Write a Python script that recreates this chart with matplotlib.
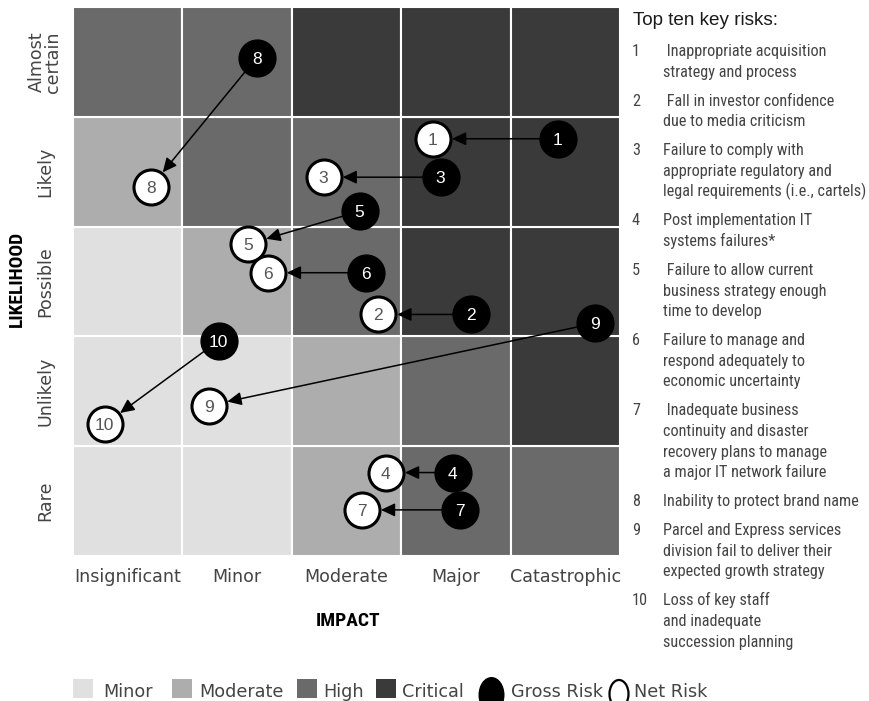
import matplotlib
matplotlib.use('Agg')
import matplotlib.pyplot as plt
from matplotlib.patches import Rectangle, Ellipse
from matplotlib import font_manager

impact_labels = ['Insignificant', 'Minor', 'Moderate', 'Major', 'Catastrophic']
likelihood_labels = ['Rare', 'Unlikely', 'Possible', 'Likely', 'Almost\ncertain']

level_names = ['Minor', 'Moderate', 'High', 'Critical']
level_colors = ['#e0e0e0', '#adadad', '#6a6a6a', '#3a3a3a']

# rows go from Rare (bottom) up to Almost certain, columns follow impact_labels
risk_levels = [
    [0, 0, 1, 2, 2],
    [0, 0, 1, 2, 3],
    [0, 1, 2, 3, 3],
    [1, 2, 2, 3, 3],
    [2, 2, 3, 3, 3],
]

risk_ids = [1, 2, 3, 4, 5, 6, 7, 8, 9, 10]
gross_impact = [4.43, 3.64, 3.36, 3.47, 2.62, 2.68, 3.54, 1.68, 4.77, 1.33]
gross_likelihood = [3.80, 2.20, 3.45, 0.76, 3.14, 2.58, 0.42, 4.54, 2.12, 1.96]
net_impact = [3.29, 2.79, 2.29, 2.86, 1.60, 1.78, 2.64, 0.71, 1.24, 0.29]
net_likelihood = [3.80, 2.20, 3.45, 0.76, 2.84, 2.58, 0.42, 3.36, 1.37, 1.20]

risk_text = [
    [' Inappropriate acquisition', 'strategy and process'],
    [' Fall in investor confidence', 'due to media criticism'],
    ['Failure to comply with', 'appropriate regulatory and', 'legal requirements (i.e., cartels)'],
    ['Post implementation IT', 'systems failures*'],
    [' Failure to allow current', 'business strategy enough', 'time to develop'],
    ['Failure to manage and', 'respond adequately to', 'economic uncertainty'],
    [' Inadequate business', 'continuity and disaster', 'recovery plans to manage', 'a major IT network failure'],
    ['Inability to protect brand name'],
    ['Parcel and Express services', 'division fail to deliver their', 'expected growth strategy'],
    ['Loss of key staff', 'and inadequate', 'succession planning'],
]

installed = {f.name for f in font_manager.fontManager.ttflist}
narrow = 'DejaVu Sans'
for cand in ['Liberation Sans Narrow', 'Roboto Condensed', 'Open Sans Condensed']:
    if cand in installed:
        narrow = cand
        break
narrow_scale = 1.0 if narrow != 'DejaVu Sans' else 0.78

fig = plt.figure(figsize=(8.69, 7.01), dpi=100)
ax = fig.add_axes([73 / 869, 145 / 701, 547 / 869, 549 / 701])

for r in range(5):
    for c in range(5):
        ax.add_patch(Rectangle((c, r), 1, 1, facecolor=level_colors[risk_levels[r][c]],
                               edgecolor='white', lw=1.5, zorder=1))

for i in range(len(risk_ids)):
    ax.annotate('', xy=(net_impact[i], net_likelihood[i]),
                xytext=(gross_impact[i], gross_likelihood[i]),
                arrowprops=dict(arrowstyle='-|>,head_length=0.85,head_width=0.4',
                                color='black', lw=1.1, shrinkA=0, shrinkB=13.7),
                zorder=3)

ax.scatter(gross_impact, gross_likelihood, s=26.5 ** 2, c='black', zorder=4, clip_on=False)
ax.scatter(net_impact, net_likelihood, s=25.2 ** 2, c='white', edgecolors='black',
           linewidths=2.2, zorder=4.5, clip_on=False)
for i, rid in enumerate(risk_ids):
    ax.text(gross_impact[i], gross_likelihood[i], str(rid), ha='center', va='center_baseline',
            color='white', fontsize=12.5, family='Liberation Sans', zorder=6)
    ax.text(net_impact[i], net_likelihood[i], str(rid), ha='center', va='center_baseline',
            color='#555555', fontsize=12.5, family='Liberation Sans', zorder=6)

ax.set_xlim(0, 5)
ax.set_ylim(0, 5)
ax.set_xticks([0.5, 1.5, 2.5, 3.5, 4.5])
ax.set_xticklabels(impact_labels, fontsize=12.6, color='#444444', family='DejaVu Sans')
ax.set_yticks([0.5, 1.5, 2.5, 3.5, 4.5])
ax.set_yticklabels(likelihood_labels, fontsize=12.6, color='#444444', family='DejaVu Sans',
                   rotation=90, ha='center', va='center', linespacing=0.85)
ax.tick_params(axis='x', length=0, pad=9)
ax.tick_params(axis='y', length=0, pad=20)
for s in ax.spines.values():
    s.set_visible(False)

# overlay in pixel coordinates for titles, side list and legend
ov = fig.add_axes([0, 0, 1, 1], zorder=10)
ov.set_xlim(0, 869)
ov.set_ylim(701, 0)
ov.axis('off')
ov.patch.set_alpha(0)

ov.text(17, 279, 'LIKELIHOOD', rotation=90, ha='center', va='center', fontweight='bold',
        family=narrow, fontsize=14 * narrow_scale, color='black')
ov.text(348, 621, 'IMPACT', ha='center', va='center', fontweight='bold',
        family=narrow, fontsize=14 * narrow_scale, color='black')

ov.text(633, 25, 'Top ten key risks:', ha='left', va='baseline', family='Liberation Sans',
        fontsize=13.6, color='#1a1a1a')

step = 20.6
gap = 8.4
y = 50
for rid, lines in zip(risk_ids, risk_text):
    ov.text(632, y + 6, str(rid), ha='left', va='baseline', family=narrow,
            fontsize=11.7 * narrow_scale, color='#444444')
    for k, line in enumerate(lines):
        ov.text(663, y + k * step + 6, line, ha='left', va='baseline', family=narrow,
                fontsize=11.7 * narrow_scale, color='#444444')
    y += len(lines) * step + gap

# legend
sq_x = [73, 172, 297, 376]
lab_x = [103, 199, 323, 402]
for name, col, sx, lx in zip(level_names, level_colors, sq_x, lab_x):
    ov.add_patch(Rectangle((sx, 679), 20, 19, facecolor=col, edgecolor='none'))
    ov.text(lx, 697, name, ha='left', va='baseline', family='DejaVu Sans',
            fontsize=12.7, color='#444444')
ov.add_patch(Ellipse((491.5, 695), 26, 36, facecolor='black', edgecolor='none', clip_on=False))
ov.text(511, 697, 'Gross Risk', ha='left', va='baseline', family='DejaVu Sans',
        fontsize=12.7, color='#444444')
ov.add_patch(Ellipse((619, 694), 19, 28, facecolor='white', edgecolor='black', lw=1.6,
                     clip_on=False))
ov.text(634, 697, 'Net Risk', ha='left', va='baseline', family='DejaVu Sans',
        fontsize=12.7, color='#444444')

fig.savefig('out.png', dpi=100)
